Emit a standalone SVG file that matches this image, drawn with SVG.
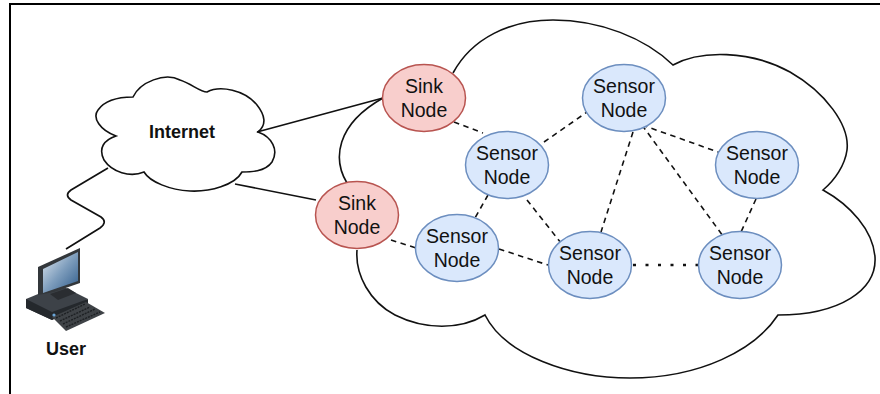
<svg xmlns="http://www.w3.org/2000/svg" width="880" height="394" viewBox="0 0 880 394">
<style>
text{font-family:"Liberation Sans",Arial,sans-serif;fill:#111;text-anchor:middle}
.l{font-size:19.5px}
.b{font-size:18px;font-weight:bold}
.sink{fill:#f8cecc;stroke:#b85450;stroke-width:1.5}
.sensor{fill:#dae8fc;stroke:#6c8ebf;stroke-width:1.5}
.cloud{fill:#fff;stroke:#111;stroke-width:1.6;stroke-linejoin:miter}
.line{fill:none;stroke:#111;stroke-width:1.7}
.dash{fill:none;stroke:#111;stroke-width:1.6;stroke-dasharray:5.5 4.5}
.dot{fill:none;stroke:#111;stroke-width:2.6;stroke-dasharray:3 9.5}
</style>
<defs>
<linearGradient id="screen" x1="0" y1="0" x2="1" y2="1"><stop offset="0" stop-color="#e4ebf2"/><stop offset="0.5" stop-color="#7f9ebd"/><stop offset="1" stop-color="#2d5a8a"/></linearGradient>
</defs>
<rect width="880" height="394" fill="#fff"/>
<path d="M10 394V4H880" fill="none" stroke="#000" stroke-width="2"/>
<g id="network-cloud"><path class="cloud" d="M453 73C472 38 510 20 553 20C600 20 645 38 673 65C700 50 750 50 790 72C825 92 850 125 847 150C845 165 835 180 823 190C850 205 873 230 875 257C877 290 840 315 778 315C755 350 700 378 630 378C570 378 505 355 485 315C460 330 425 330 395 315C370 302 355 275 357 250M347 183C333 160 335 125 383 98" /></g>
<g id="internet-cloud"><path class="cloud" d="M133 97C140 82 165 72 180 80C192 84 200 92 207 92C220 85 245 90 257 105C265 115 267 125 258 132C272 137 279 150 272 162C265 172 250 172 242 172C235 185 210 192 190 191C170 190 150 182 144 172C130 178 112 172 104 160C98 148 104 140 116 136C100 130 92 118 98 110C105 100 120 97 133 97Z"/>
<text class="b" x="182" y="138">Internet</text></g>
<g id="connectors">
<path class="line" d="M257 132L383 98M235 184L316 200"/>
<path class="line" d="M108 168L71 190Q64 195 71 200L101 217Q108 222 100 228L66 249"/>
<path class="dash" d="M454 122L483 133M544 142L590 110M488 195L475 218M527 200L561 243M391 240L416 248M499 249L548 265M633 132L601 232M642 125L721 153M642 125L723 236M756 199L741 232"/>
<path class="dot" d="M633 265H699"/>
</g>
<g id="sink-1"><ellipse class="sink" cx="424" cy="98" rx="41.5" ry="33.5"/><text class="l" x="424" y="93">Sink</text><text class="l" x="424" y="117">Node</text></g>
<g id="sink-2"><ellipse class="sink" cx="357" cy="215" rx="41.5" ry="33.5"/><text class="l" x="357" y="210">Sink</text><text class="l" x="357" y="234">Node</text></g>
<g id="sensor-a"><ellipse class="sensor" cx="507" cy="165" rx="41.5" ry="33.5"/><text class="l" x="507" y="160">Sensor</text><text class="l" x="507" y="184">Node</text></g>
<g id="sensor-b"><ellipse class="sensor" cx="457" cy="248" rx="41.5" ry="33.5"/><text class="l" x="457" y="243">Sensor</text><text class="l" x="457" y="267">Node</text></g>
<g id="sensor-c"><ellipse class="sensor" cx="624" cy="98" rx="41.5" ry="33.5"/><text class="l" x="624" y="93">Sensor</text><text class="l" x="624" y="117">Node</text></g>
<g id="sensor-d"><ellipse class="sensor" cx="590" cy="265" rx="41.5" ry="33.5"/><text class="l" x="590" y="260">Sensor</text><text class="l" x="590" y="284">Node</text></g>
<g id="sensor-e"><ellipse class="sensor" cx="757" cy="165" rx="41.5" ry="33.5"/><text class="l" x="757" y="160">Sensor</text><text class="l" x="757" y="184">Node</text></g>
<g id="sensor-f"><ellipse class="sensor" cx="740" cy="265" rx="41.5" ry="33.5"/><text class="l" x="740" y="260">Sensor</text><text class="l" x="740" y="284">Node</text></g>
<g id="user">
<path d="M26 299L60 285L88 299L52 320L26 308Z" fill="#3d4248"/>
<path d="M26 299L52 312L88 299L88 304L52 320L26 308Z" fill="#24282c"/>
<path d="M52 317L86 302L105 313L66 331Z" fill="#3f4347"/>
<path d="M56 318L85 304M60 321L90 307M63 324L95 309M66 327L100 312" stroke="#1d2023" stroke-width="1.4" stroke-dasharray="2 1"/>
<path d="M38 267L80 248V283L54 292L38 295Z" fill="#33373b"/>
<path d="M43 269L78 252V281L43 293Z" fill="url(#screen)"/>
<path d="M50 294L68 288L76 293L58 300Z" fill="#2a2d31"/>
<circle cx="54" cy="315" r="1.6" fill="#6aa5d8"/>
<text class="b" x="66" y="355">User</text>
</g>
</svg>
